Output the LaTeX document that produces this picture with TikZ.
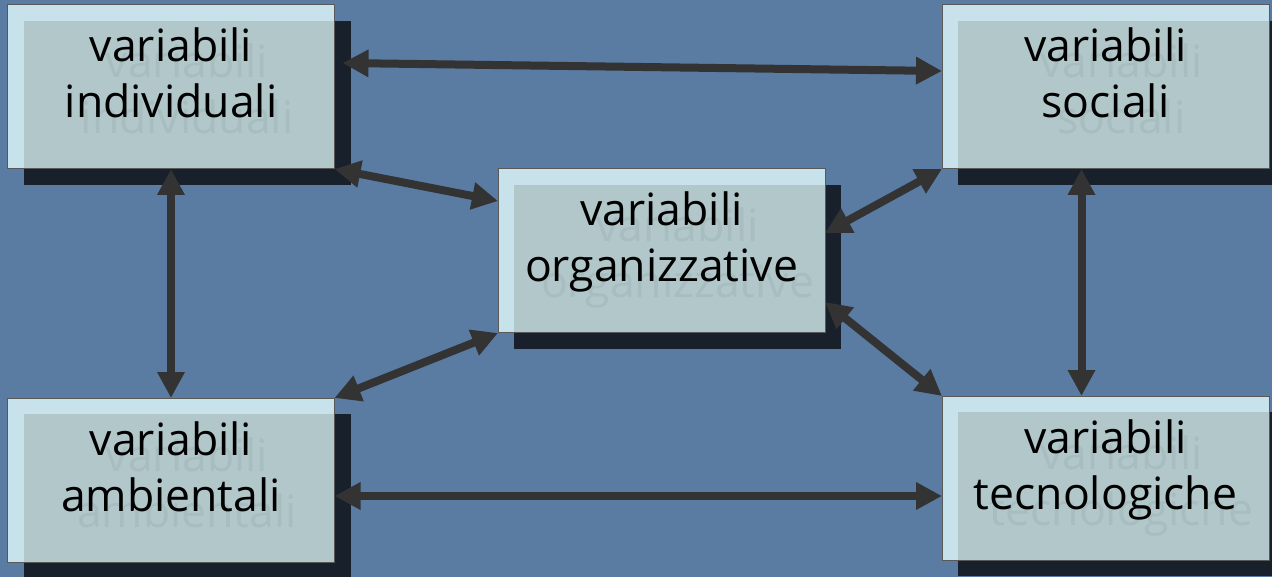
\documentclass[tikz,border=0pt]{standalone}
\usepackage{fontspec}
\setmainfont{Open Sans}
\usetikzlibrary{arrows.meta}

\definecolor{bgblue}{HTML}{5A7CA3}
\definecolor{boxfront}{HTML}{C7E2EA}
\definecolor{boxinner}{HTML}{B2C7CA}
\definecolor{boxshadow}{HTML}{18202B}
\definecolor{ghost}{HTML}{A8BDC0}
\definecolor{linkgray}{HTML}{333333}

\pgfdeclarelayer{bg}
\pgfdeclarelayer{shadows}
\pgfdeclarelayer{links}
\pgfsetlayers{bg,shadows,links,main}

\tikzset{
  frontbox/.style={draw=black!65, line width=1pt, fill=boxfront,
    inner sep=0pt, outer sep=0pt, minimum width=327pt, minimum height=164pt,
    anchor=north west,
    path picture={\fill[boxinner]
      ([shift={(16pt,-16pt)}]path picture bounding box.north west)
      rectangle (path picture bounding box.south east);}},
  labeltext/.style={font=\fontsize{44.5}{50}\selectfont, anchor=base,
    inner sep=0pt, text=black},
  ghosttext/.style={labeltext, text=ghost},
  link/.style={draw=linkgray, line width=8pt,
    {Triangle[length=26pt,width=26pt]}-{Triangle[length=26pt,width=26pt]}},
}

% one box: name, north-west corner (x, y), first line, second line
\newcommand\varbox[5]{%
  \node[frontbox] (#1) at (#2,#3) {};
  \begin{pgfonlayer}{shadows}
    \fill[boxshadow] ([shift={(16pt,-16pt)}]#1.north west)
      rectangle ([shift={(16pt,-16pt)}]#1.south east);
  \end{pgfonlayer}
  \node[ghosttext] (#1-ga) at ([shift={(16pt,-73pt)}]#1.north) {#4};
  \node[ghosttext] (#1-gb) at ([shift={(16pt,-129pt)}]#1.north) {#5};
  \node[labeltext] (#1-a) at ([yshift=-57pt]#1.north) {#4};
  \node[labeltext] (#1-b) at ([yshift=-113pt]#1.north) {#5};
}

\begin{document}
\begin{tikzpicture}[x=1pt, y=-1pt]
  \useasboundingbox (0,0) rectangle (1272,577);
  \begin{pgfonlayer}{bg}
    \fill[bgblue] (0,0) rectangle (1272,577);
  \end{pgfonlayer}

  \varbox{ind}{7.5}{5}{variabili}{individuali}
  \varbox{soc}{942}{5}{variabili}{sociali}
  \varbox{org}{498}{169}{variabili}{organizzative}
  \varbox{amb}{7.5}{398}{variabili}{ambientali}
  \varbox{tec}{942}{396}{variabili}{tecnologiche}

  \begin{pgfonlayer}{links}
    \draw[link] ([shift={(8pt,-58pt)}]ind.north east) -- ([yshift=-66pt]soc.north west);
    \draw[link] (ind.south east) -- ([yshift=-32pt]org.north west);
    \draw[link] (amb.north east) -- (org.south west);
    \draw[link] (soc.south west) -- ([yshift=-64pt]org.north east);
    \draw[link] ([yshift=-133pt]org.north east) -- (tec.north west);
    \draw[link] (ind.south) -- (amb.north);
    \draw[link] ([xshift=-24pt]soc.south) -- ([xshift=-24pt]tec.north);
    \draw[link] ([yshift=-98pt]amb.north east) -- ([yshift=-100pt]tec.north west);
  \end{pgfonlayer}
\end{tikzpicture}
\end{document}
